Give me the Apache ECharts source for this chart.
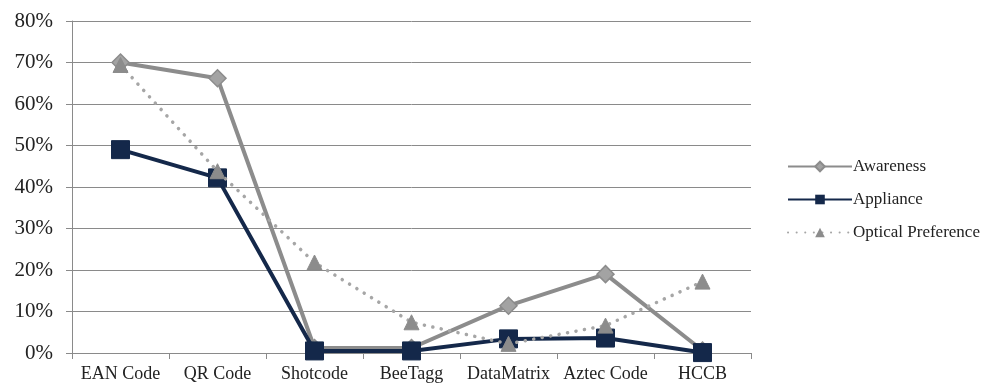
<!DOCTYPE html>
<html>
<head>
<meta charset="utf-8">
<script src="https://cdn.jsdelivr.net/npm/echarts@6/dist/echarts.min.js"></script>
<style>
  html, body { margin: 0; padding: 0; background: #fff; }
  #chart { width: 994px; height: 384px; }
</style>
</head>
<body>
<div id="chart"></div>
<script>
// Barcode types on the category axis
const categories = ['EAN Code', 'QR Code', 'Shotcode', 'BeeTagg', 'DataMatrix', 'Aztec Code', 'HCCB'];
// Percentages per barcode type
const awareness = [70, 66.2, 1.2, 1.2, 11.4, 19, 0.6];
const appliance = [49, 42.2, 0.5, 0.5, 3.4, 3.6, 0.1];
const opticalPreference = [69.4, 43.8, 21.8, 7.4, 2.2, 6.6, 17.2];
// Value axis ticks
const yTicks = [0, 10, 20, 30, 40, 50, 60, 70, 80];

const serif = '"Liberation Serif", "DejaVu Serif", serif';

const chart = echarts.init(document.getElementById('chart'), null, { renderer: 'canvas' });
chart.setOption({
  animation: false,
  backgroundColor: '#ffffff',
  grid: { left: 72, right: 243, top: 21, bottom: 31, containLabel: false },
  legend: {
    orient: 'vertical',
    left: 782,
    top: 153,
    itemWidth: 64,
    itemHeight: 12,
    itemGap: 16,
    textStyle: { fontFamily: serif, fontSize: 17, color: '#222', padding: [0, 0, 0, -4] },
    data: ['Awareness', 'Appliance', 'Optical Preference']
  },
  xAxis: {
    type: 'category',
    data: categories,
    boundaryGap: true,
    axisLine: { show: true, lineStyle: { color: '#8a8a8a', width: 1 } },
    axisTick: { show: true, length: 6, lineStyle: { color: '#8a8a8a' } },
    axisLabel: { fontFamily: serif, fontSize: 18, color: '#222', margin: 12, interval: 0, hideOverlap: false }
  },
  yAxis: {
    type: 'value',
    min: yTicks[0],
    max: yTicks[yTicks.length - 1],
    interval: 10,
    axisLine: { show: true, lineStyle: { color: '#8a8a8a', width: 1 } },
    axisTick: { show: true, length: 6, lineStyle: { color: '#8a8a8a' } },
    splitLine: { show: true, lineStyle: { color: '#8a8a8a', width: 1 } },
    axisLabel: { fontFamily: serif, fontSize: 21, color: '#222', margin: 19, formatter: v => v + '%' }
  },
  series: [
    {
      name: 'Awareness',
      type: 'line',
      data: awareness,
      symbol: 'diamond',
      symbolSize: 17,
      lineStyle: { color: '#8c8c8c', width: 4 },
      itemStyle: { color: '#a3a3a3', borderColor: '#8c8c8c', borderWidth: 1.5 },
      z: 2
    },
    {
      name: 'Appliance',
      type: 'line',
      data: appliance,
      symbol: 'rect',
      symbolSize: 18,
      lineStyle: { color: '#14284a', width: 4 },
      itemStyle: { color: '#14284a', borderColor: '#14284a' },
      z: 3
    },
    {
      name: 'Optical Preference',
      type: 'line',
      data: opticalPreference,
      symbol: 'triangle',
      symbolSize: 15,
      lineStyle: { color: '#a6a6a6', width: 3.5, type: [0.1, 8.5], cap: 'round' },
      itemStyle: { color: '#8c8c8c', borderColor: '#8c8c8c' },
      z: 4
    }
  ]
});
</script>
</body>
</html>
